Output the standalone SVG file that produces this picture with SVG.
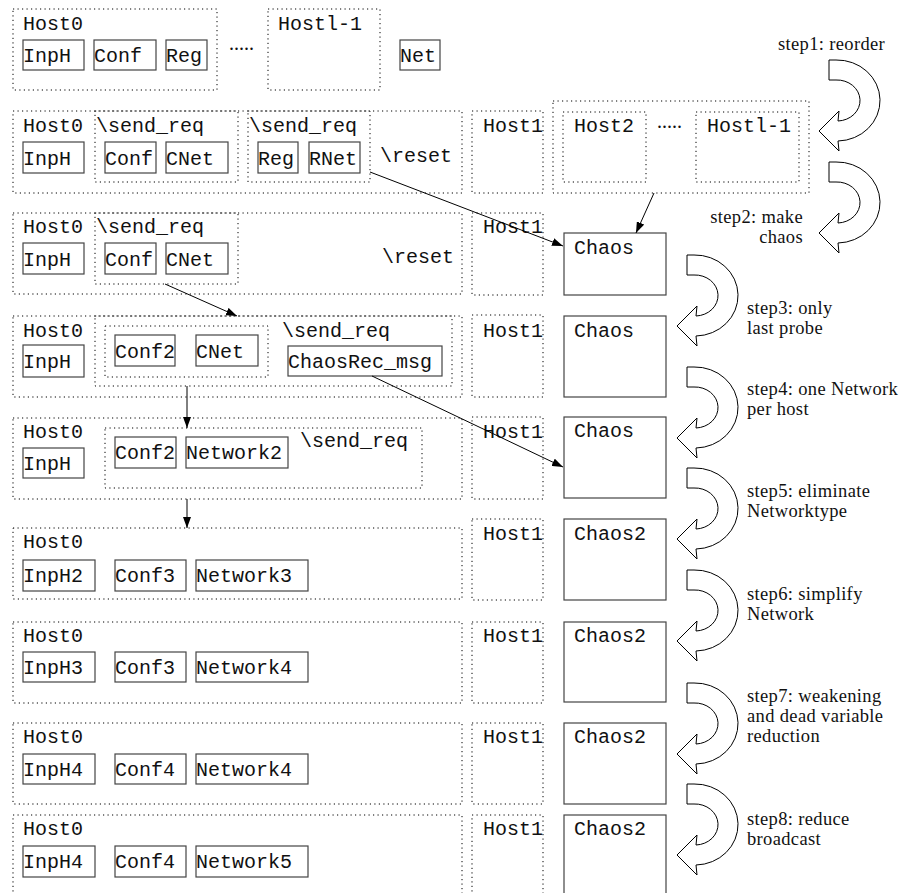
<svg xmlns="http://www.w3.org/2000/svg" width="908" height="893" viewBox="0 0 908 893">
<style>
  .dot { fill: none; stroke: #000; stroke-width: 1; stroke-dasharray: 1.2 3.3; }
  .box { fill: none; stroke: #444; stroke-width: 1.2; }
  .mono { font-family: "Liberation Mono", "DejaVu Sans Mono", monospace; font-size: 20px; fill: #111; }
  .serif { font-family: "Liberation Serif", "Times New Roman", serif; font-size: 20px; fill: #111; }
  .lab { font-family: "Liberation Serif", "Times New Roman", serif; font-size: 18.5px; letter-spacing: 0.35px; fill: #111; }
  .conn { stroke: #000; stroke-width: 1; fill: none; marker-end: url(#ah); }
  .step { fill: #fff; stroke: #000; stroke-width: 1; }
</style>
<defs>
  <marker id="ah" markerWidth="12" markerHeight="8" refX="11" refY="4" orient="auto" markerUnits="userSpaceOnUse">
    <path d="M0,0 L11,4 L0,8 Z" fill="#000"/>
  </marker>
  <path id="sa" d="M0,0 L7,0 A43,40.5 0 0 1 9,81 L10,91 L-10,71 L10,51 L9,61 A23,20.5 0 0 0 7,20 L0,20 Z"/>
</defs>
<rect width="908" height="893" fill="#fff"/>

<!-- Row 1 -->
<g id="row1-host0">
  <rect class="dot" x="13" y="9" width="204" height="81"/>
  <text class="mono" x="23" y="30">Host0</text>
  <rect class="box" x="23" y="40" width="61" height="30"/><text class="mono" x="23" y="62">InpH</text>
  <rect class="box" x="94" y="40" width="62" height="30"/><text class="mono" x="94" y="62">Conf</text>
  <rect class="box" x="166" y="40" width="41" height="30"/><text class="mono" x="166" y="62">Reg</text>
</g>
<g id="row1-dots"><text class="serif" x="229" y="50">.....</text></g>
<g id="row1-hostl1">
  <rect class="dot" x="268" y="9" width="112" height="81"/>
  <text class="mono" x="278" y="30">Hostl-1</text>
</g>
<g id="row1-net">
  <rect class="box" x="400" y="40" width="40" height="30"/><text class="mono" x="400" y="62">Net</text>
</g>

<!-- Row 2 -->
<g id="row2-host0">
  <rect class="dot" x="13" y="111" width="449" height="82"/>
  <text class="mono" x="23" y="132">Host0</text>
  <rect class="box" x="23" y="142" width="61" height="31"/><text class="mono" x="23" y="165">InpH</text>
  <rect class="dot" x="95" y="111" width="143" height="71"/>
  <text class="mono" x="96" y="132">\send_req</text>
  <rect class="box" x="105" y="142" width="51" height="31"/><text class="mono" x="105" y="165">Conf</text>
  <rect class="box" x="166" y="142" width="62" height="31"/><text class="mono" x="166" y="165">CNet</text>
  <rect class="dot" x="248" y="111" width="122" height="71"/>
  <text class="mono" x="249" y="132">\send_req</text>
  <rect class="box" x="258" y="142" width="40" height="31"/><text class="mono" x="258" y="165">Reg</text>
  <rect class="box" x="309" y="142" width="51" height="31"/><text class="mono" x="309" y="165">RNet</text>
  <text class="mono" x="380" y="162">\reset</text>
</g>
<g id="row2-host1">
  <rect class="dot" x="472" y="111" width="71" height="82"/>
  <text class="mono" x="483" y="132">Host1</text>
</g>
<g id="row2-hostgroup">
  <rect class="dot" x="553" y="101" width="256" height="92"/>
  <rect class="dot" x="563" y="112" width="83" height="70"/>
  <text class="mono" x="574" y="132">Host2</text>
  <text class="serif" x="657" y="128">.....</text>
  <rect class="dot" x="696" y="112" width="103" height="70"/>
  <text class="mono" x="707" y="132">Hostl-1</text>
</g>

<!-- Row 3 -->
<g id="row3-host0">
  <rect class="dot" x="13" y="213" width="449" height="81"/>
  <text class="mono" x="23" y="233">Host0</text>
  <rect class="box" x="23" y="243" width="61" height="31"/><text class="mono" x="23" y="266">InpH</text>
  <rect class="dot" x="95" y="213" width="143" height="71"/>
  <text class="mono" x="96" y="233">\send_req</text>
  <rect class="box" x="105" y="243" width="51" height="31"/><text class="mono" x="105" y="266">Conf</text>
  <rect class="box" x="166" y="243" width="62" height="31"/><text class="mono" x="166" y="266">CNet</text>
  <text class="mono" x="382" y="263">\reset</text>
</g>
<g id="row3-host1">
  <rect class="dot" x="472" y="213" width="71" height="82"/>
  <text class="mono" x="483" y="233">Host1</text>
</g>
<g id="row3-chaos">
  <rect class="box" x="564" y="233" width="102" height="62"/>
  <text class="mono" x="574" y="254">Chaos</text>
</g>

<!-- Row 4 -->
<g id="row4-host0">
  <rect class="dot" x="13" y="316" width="449" height="81"/>
  <text class="mono" x="23" y="337">Host0</text>
  <rect class="box" x="23" y="345" width="61" height="32"/><text class="mono" x="23" y="368">InpH</text>
  <rect class="dot" x="95" y="316" width="357" height="70"/>
  <rect class="dot" x="105" y="326" width="163" height="51"/>
  <rect class="box" x="115" y="335" width="60" height="31"/><text class="mono" x="115" y="358">Conf2</text>
  <rect class="box" x="196" y="335" width="62" height="31"/><text class="mono" x="196" y="358">CNet</text>
  <text class="mono" x="282" y="337">\send_req</text>
  <rect class="box" x="288" y="346" width="154" height="30"/><text class="mono" x="288" y="368">ChaosRec_msg</text>
</g>
<g id="row4-host1">
  <rect class="dot" x="472" y="315" width="71" height="82"/>
  <text class="mono" x="483" y="337">Host1</text>
</g>
<g id="row4-chaos">
  <rect class="box" x="564" y="316" width="102" height="81"/>
  <text class="mono" x="574" y="337">Chaos</text>
</g>

<!-- Row 5 -->
<g id="row5-host0">
  <rect class="dot" x="13" y="418" width="449" height="81"/>
  <text class="mono" x="23" y="438">Host0</text>
  <rect class="box" x="23" y="448" width="61" height="30"/><text class="mono" x="23" y="470">InpH</text>
  <rect class="dot" x="105" y="428" width="317" height="60"/>
  <rect class="box" x="115" y="437" width="61" height="31"/><text class="mono" x="115" y="459">Conf2</text>
  <rect class="box" x="186" y="437" width="102" height="31"/><text class="mono" x="186" y="459">Network2</text>
  <text class="mono" x="300" y="447">\send_req</text>
</g>
<g id="row5-host1">
  <rect class="dot" x="472" y="417" width="71" height="82"/>
  <text class="mono" x="483" y="438">Host1</text>
</g>
<g id="row5-chaos">
  <rect class="box" x="564" y="417" width="102" height="81"/>
  <text class="mono" x="574" y="437">Chaos</text>
</g>

<!-- Row 6 -->
<g id="row6-host0">
  <rect class="dot" x="13" y="528" width="449" height="71"/>
  <text class="mono" x="23" y="548">Host0</text>
  <rect class="box" x="23" y="560" width="72" height="31"/><text class="mono" x="23" y="582">InpH2</text>
  <rect class="box" x="115" y="560" width="71" height="31"/><text class="mono" x="115" y="582">Conf3</text>
  <rect class="box" x="196" y="560" width="112" height="31"/><text class="mono" x="196" y="582">Network3</text>
</g>
<g id="row6-host1">
  <rect class="dot" x="472" y="519" width="71" height="81"/>
  <text class="mono" x="483" y="540">Host1</text>
</g>
<g id="row6-chaos">
  <rect class="box" x="564" y="519" width="102" height="81"/>
  <text class="mono" x="574" y="540">Chaos2</text>
</g>

<!-- Row 7 -->
<g id="row7-host0">
  <rect class="dot" x="13" y="622" width="449" height="81"/>
  <text class="mono" x="23" y="642">Host0</text>
  <rect class="box" x="23" y="652" width="72" height="30"/><text class="mono" x="23" y="674">InpH3</text>
  <rect class="box" x="115" y="652" width="71" height="30"/><text class="mono" x="115" y="674">Conf3</text>
  <rect class="box" x="196" y="652" width="112" height="30"/><text class="mono" x="196" y="674">Network4</text>
</g>
<g id="row7-host1">
  <rect class="dot" x="472" y="622" width="71" height="81"/>
  <text class="mono" x="483" y="642">Host1</text>
</g>
<g id="row7-chaos">
  <rect class="box" x="564" y="622" width="102" height="80"/>
  <text class="mono" x="574" y="642">Chaos2</text>
</g>

<!-- Row 8 -->
<g id="row8-host0">
  <rect class="dot" x="13" y="723" width="449" height="81"/>
  <text class="mono" x="23" y="743">Host0</text>
  <rect class="box" x="23" y="754" width="72" height="30"/><text class="mono" x="23" y="776">InpH4</text>
  <rect class="box" x="115" y="754" width="71" height="30"/><text class="mono" x="115" y="776">Conf4</text>
  <rect class="box" x="196" y="754" width="112" height="30"/><text class="mono" x="196" y="776">Network4</text>
</g>
<g id="row8-host1">
  <rect class="dot" x="472" y="723" width="71" height="81"/>
  <text class="mono" x="483" y="743">Host1</text>
</g>
<g id="row8-chaos">
  <rect class="box" x="564" y="723" width="102" height="81"/>
  <text class="mono" x="574" y="743">Chaos2</text>
</g>

<!-- Row 9 -->
<g id="row9-host0">
  <rect class="dot" x="13" y="815" width="449" height="100"/>
  <text class="mono" x="23" y="835">Host0</text>
  <rect class="box" x="23" y="846" width="72" height="31"/><text class="mono" x="23" y="868">InpH4</text>
  <rect class="box" x="115" y="846" width="71" height="31"/><text class="mono" x="115" y="868">Conf4</text>
  <rect class="box" x="196" y="846" width="112" height="31"/><text class="mono" x="196" y="868">Network5</text>
</g>
<g id="row9-host1">
  <rect class="dot" x="472" y="815" width="71" height="100"/>
  <text class="mono" x="483" y="835">Host1</text>
</g>
<g id="row9-chaos">
  <rect class="box" x="564" y="815" width="102" height="100"/>
  <text class="mono" x="574" y="835">Chaos2</text>
</g>

<!-- Connectors -->
<g id="connectors">
  <line class="conn" x1="370" y1="172" x2="563" y2="246"/>
  <line class="conn" x1="654" y1="193" x2="636" y2="233"/>
  <line class="conn" x1="165" y1="284" x2="237" y2="316"/>
  <line class="conn" x1="187" y1="386" x2="187" y2="428"/>
  <line class="conn" x1="187" y1="499" x2="187" y2="528"/>
  <line class="conn" x1="372" y1="376" x2="563" y2="467"/>
</g>

<!-- Step arrows -->
<g id="steps">
  <use href="#sa" class="step" x="829" y="60"/>
  <use href="#sa" class="step" x="829" y="162"/>
  <use href="#sa" class="step" x="687" y="255"/>
  <use href="#sa" class="step" x="687" y="367"/>
  <use href="#sa" class="step" x="687" y="468"/>
  <use href="#sa" class="step" x="687" y="570"/>
  <use href="#sa" class="step" x="687" y="683"/>
  <use href="#sa" class="step" x="687" y="784"/>
</g>
<g id="step-labels">
  <text class="lab" x="778" y="50">step1: reorder</text>
  <text class="lab" x="803" y="223" text-anchor="end">step2: make</text>
  <text class="lab" x="803" y="243" text-anchor="end">chaos</text>
  <text class="lab" x="747" y="314">step3: only</text>
  <text class="lab" x="747" y="334">last probe</text>
  <text class="lab" x="747" y="395">step4: one Network</text>
  <text class="lab" x="747" y="415">per host</text>
  <text class="lab" x="747" y="497">step5: eliminate</text>
  <text class="lab" x="747" y="517">Networktype</text>
  <text class="lab" x="747" y="600">step6: simplify</text>
  <text class="lab" x="747" y="620">Network</text>
  <text class="lab" x="747" y="702">step7: weakening</text>
  <text class="lab" x="747" y="722">and dead variable</text>
  <text class="lab" x="747" y="742">reduction</text>
  <text class="lab" x="747" y="825">step8: reduce</text>
  <text class="lab" x="747" y="845">broadcast</text>
</g>
</svg>
